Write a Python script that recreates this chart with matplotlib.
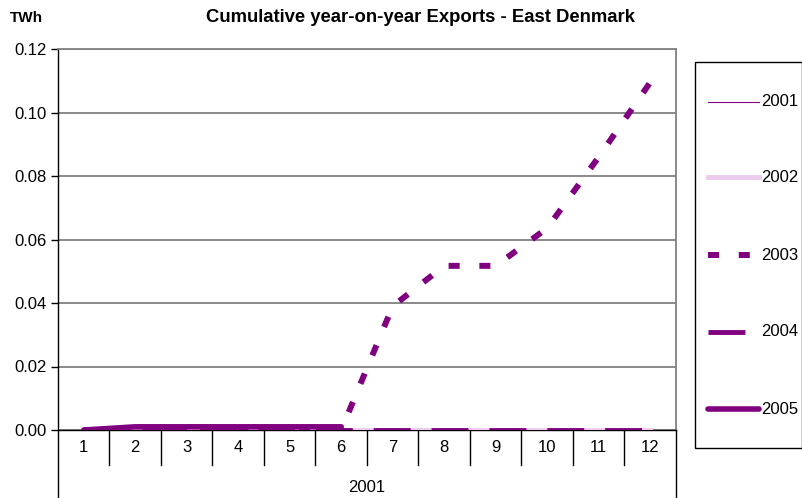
import matplotlib
matplotlib.use("Agg")
import matplotlib.pyplot as plt
from matplotlib.lines import Line2D
import numpy as np

plt.rcParams['font.family'] = ['Liberation Sans', 'DejaVu Sans']

months = [1, 2, 3, 4, 5, 6, 7, 8, 9, 10, 11, 12]
series_names = ['2001', '2002', '2003', '2004', '2005']
v2001 = [0, 0, 0, 0, 0, 0, 0, 0, 0, 0, 0, 0]
v2002 = [0, 0, 0, 0, 0, 0, 0, 0, 0, 0, 0, 0]
v2003 = [0, 0, 0, 0, 0, 0, 0.039, 0.0517, 0.0517, 0.0636, 0.086, 0.1095]
v2004 = [0, 0, 0, 0, 0, 0, 0, 0, 0, 0, 0, 0]
v2005 = [0, 0.001, 0.001, 0.001, 0.001, 0.001, None, None, None, None, None, None]
yticks = [0.00, 0.02, 0.04, 0.06, 0.08, 0.10, 0.12]
group_label = '2001'

W, H = 803, 498
fig = plt.figure(figsize=(W / 100, H / 100), dpi=100)
L, R, B, T = 58, 676, 430, 49
ax = fig.add_axes([L / W, 1 - B / H, (R - L) / W, (B - T) / H])

purple = '#800080'
pink = '#eccbec'
FS = 12

x = np.array(months)
def arr(v):
    return np.array([np.nan if a is None else a for a in v], dtype=float)

l1, = ax.plot(x, arr(v2001), color=purple, lw=0.8, zorder=3)
l2, = ax.plot(x, arr(v2002), color=pink, lw=3.5, zorder=3)
l3, = ax.plot(x, arr(v2003), color=purple, lw=4.3, zorder=4, solid_capstyle='butt',
              dash_capstyle='butt', dashes=(1.85, 3.3))
l4, = ax.plot(x, arr(v2004), color=purple, lw=3.5, zorder=5, dash_capstyle='butt',
              dashes=(7.6, 4.3))
l5, = ax.plot(x, arr(v2005), color=purple, lw=4.0, zorder=6, solid_capstyle='round')

ax.set_xlim(0.5, 12.5)
ax.set_ylim(0, 0.12)
ax.set_yticks(yticks)
ax.set_yticklabels([f'{v:.2f}' for v in yticks], fontsize=FS)
ax.yaxis.grid(True, color='#808080', lw=1.3)
ax.set_axisbelow(True)
ax.tick_params(axis='y', length=5, width=1, color='black', pad=3)
ax.set_xticks([])

for s in ['top', 'right']:
    ax.spines[s].set_color('#808080')
    ax.spines[s].set_linewidth(1.3)
ax.spines['left'].set_color('black')
ax.spines['bottom'].set_color('black')
ax.spines['left'].set_linewidth(1.0)
ax.spines['bottom'].set_linewidth(1.0)

h_ax = B - T
sep_bot = -(465 - B) / h_ax
trans = ax.get_xaxis_transform()
for m in months[:-1]:
    ax.plot([m + 0.5, m + 0.5], [0, sep_bot], transform=trans, color='black',
            lw=1.0, clip_on=False)
for xe in [0.5, 12.5]:
    ax.plot([xe, xe], [0, -(H - B) / h_ax - 0.05], transform=trans, color='black',
            lw=1.0, clip_on=False)
for m in months:
    ax.text(m, -(447 - B) / h_ax, str(m), transform=trans, ha='center', va='center',
            fontsize=FS)
ax.text(6.5, -(488 - B) / h_ax, group_label, transform=trans, ha='center', va='center',
        fontsize=FS)

fig.text(421 / W, 1 - 18 / H, 'Cumulative year-on-year Exports - East Denmark',
         ha='center', va='center', fontsize=13.3, fontweight='bold')
fig.text(10 / W, 1 - 18 / H, 'TWh', ha='left', va='center', fontsize=11, fontweight='bold')

# legend box
lx0, lx1, ly0, ly1 = 695, 802, 62, 448
fig.add_artist(plt.Rectangle((lx0 / W, 1 - ly1 / H), (lx1 - lx0) / W, (ly1 - ly0) / H,
                             transform=fig.transFigure, fill=False, edgecolor='black', lw=1.0))
handles = [l1, l2, l3, l4, l5]
ys = [102, 177, 255, 332, 409]
for h, yy, name in zip(handles, ys, series_names):
    ln = Line2D([708 / W, 759 / W], [1 - yy / H, 1 - yy / H], transform=fig.transFigure,
                color=h.get_color(), lw=h.get_linewidth())
    if name == '2003':
        ln.set_dashes((1.85, 3.3)); ln.set_dash_capstyle('butt')
    elif name == '2004':
        ln.set_dashes((7.6, 4.3)); ln.set_dash_capstyle('butt')
    elif name == '2005':
        ln.set_solid_capstyle('round')
    fig.add_artist(ln)
    fig.text(761 / W, 1 - yy / H, name, ha='left', va='center', fontsize=FS)

fig.savefig('out.png', dpi=100)
